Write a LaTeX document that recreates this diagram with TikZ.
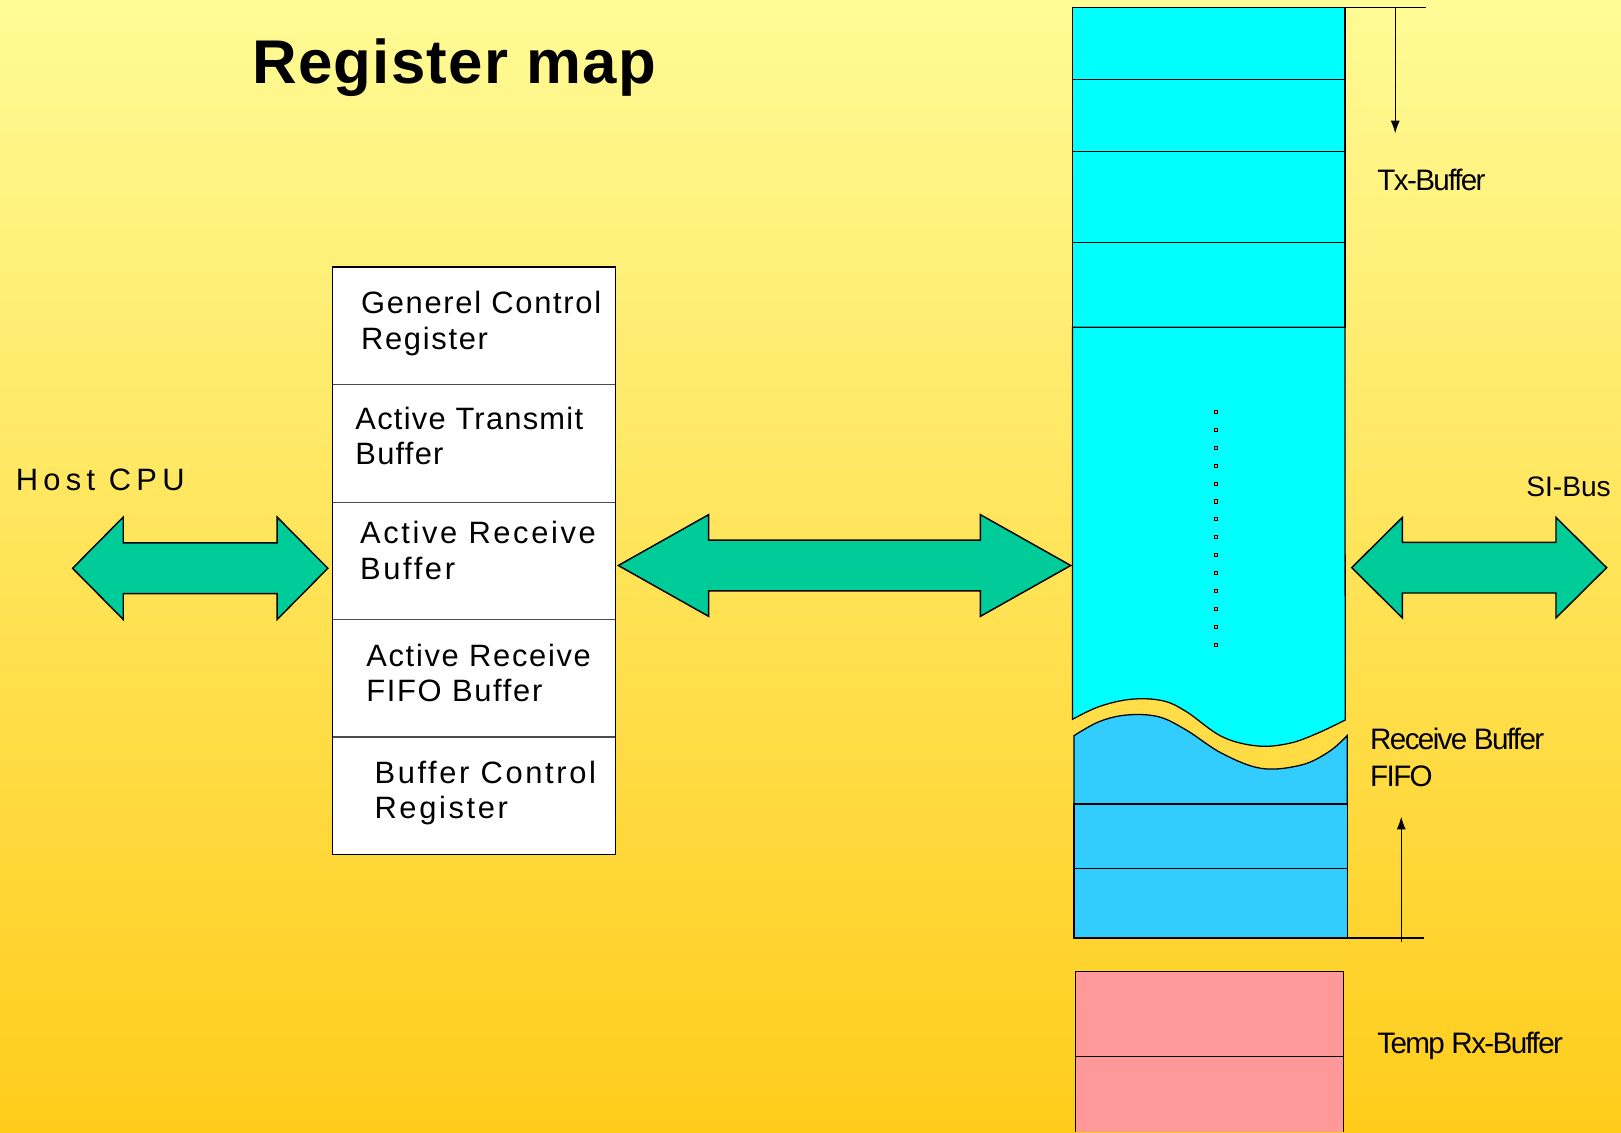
\documentclass[tikz,border=0pt]{standalone}
\usepackage{fontspec}
\setmainfont{Liberation Sans}
\newfontfamily\titlefont[LetterSpace=2]{Liberation Sans}
\newfontfamily\regfont[LetterSpace=5.5]{Liberation Sans}
\newfontfamily\tightregfont[LetterSpace=4]{Liberation Sans}
\newfontfamily\widefont[LetterSpace=8.5]{Liberation Sans}
\newfontfamily\hostfont[LetterSpace=17]{Liberation Sans}
\newfontfamily\narrowfont[LetterSpace=-5.5]{Liberation Sans}
\usetikzlibrary{arrows.meta}

\definecolor{bgtop}{RGB}{255,251,150}
\definecolor{bgbottom}{RGB}{255,204,26}
\definecolor{busgreen}{RGB}{0,204,153}
\definecolor{txcyan}{RGB}{0,255,255}
\definecolor{rxblue}{RGB}{51,204,255}
\definecolor{temppink}{RGB}{255,153,153}
\definecolor{dotfill}{RGB}{190,170,90}

\tikzset{
	bus/.style={draw=black, line width=0.8pt, fill=busgreen, line join=miter},
	regbox/.style={draw=black, line width=0.7pt, fill=white},
	regline/.style={draw=black!70, line width=0.7pt},
	txcell/.style={draw=black, line width=0.7pt, fill=txcyan},
	rxcell/.style={draw=black, line width=0.7pt, fill=rxblue},
	tempcell/.style={draw=black, line width=0.6pt, fill=temppink},
	ptr/.style={draw=black, line width=0.6pt, -{Latex[length=7pt, width=5pt]}},
	titletext/.style={inner sep=0pt, font=\titlefont\bfseries\fontsize{34}{40}\selectfont},
	hosttext/.style={inner sep=0pt, font=\hostfont\fontsize{17}{20}\selectfont},
	reglabel/.style={inner sep=0pt, align=left, font=\regfont\fontsize{17}{19.6}\selectfont},
	tightlabel/.style={inner sep=0pt, align=left, font=\tightregfont\fontsize{17}{19.6}\selectfont},
	widelabel/.style={inner sep=0pt, align=left, font=\widefont\fontsize{17}{19.6}\selectfont},
	buflabel/.style={inner sep=0pt, align=left, font=\narrowfont\fontsize{16.3}{20.1}\selectfont},
}

\def\fatarrow[#1](#2,#3,#4)(#5,#6,#7){\draw[#1] (#2,#4) -- ({#2+#5},{#4-#6}) -- ({#2+#5},{#4-#7}) -- ({#3-#5},{#4-#7}) -- ({#3-#5},{#4-#6}) -- (#3,#4) -- ({#3-#5},{#4+#6}) -- ({#3-#5},{#4+#7}) -- ({#2+#5},{#4+#7}) -- ({#2+#5},{#4+#6}) -- cycle;}

\begin{document}
\begin{tikzpicture}[x=0.02cm, y=-0.02cm]
			%%%%% START %%%%%
			
			\useasboundingbox (0,0) rectangle (1568,1095);
			\shade[top color=bgtop, bottom color=bgbottom] (0,0) rectangle (1568,1095);
			
			\node[titletext, anchor=base west] (title) at (244,80.6) {Register map};
			
			\node[hosttext, anchor=base west] (host) at (15,474) {Host CPU};
			\fatarrow[bus](70.2,317.1,549.7)(49,49.5,24.5);
			
			% register block (anchor on the second line)
			\draw[regbox] (321.8,258.2) rectangle (595.2,826.4);
			\foreach \y in {371.8,485.8,599.5,712.8}
				\draw[regline] (321.8,\y) -- (595.2,\y);
			\node[reglabel, anchor=base west] (gcr) at (349,337.8) {Generel Control\\Register};
			\node[tightlabel, anchor=base west] (atb) at (343.5,449.6) {Active Transmit\\Buffer};
			\node[widelabel, anchor=base west] (arb) at (348,560.6) {Active Receive\\Buffer};
			\node[reglabel, anchor=base west] (arf) at (354,679) {Active Receive\\FIFO Buffer};
			\node[widelabel, anchor=base west] (bcr) at (362,792) {Buffer Control\\Register};
			
			\fatarrow[bus](598.1,1035.7,547)(87.4,49.2,24.6);
			
			% Tx-Buffer
			\foreach \ya/\yb in {7.1/76.7,76.7/146.7,146.7/234.8,234.8/316.6}
				\draw[txcell] (1037.4,\ya) rectangle (1301,\yb);
			\draw[txcell] (1301,316.6) -- (1037.4,316.6) -- plot[smooth, tension=0.6] coordinates {(1037.4,695.8) (1063.1,683.5) (1093.9,676.4) (1124.6,677.8) (1147.6,688.4) (1182.1,712.6) (1216.6,721.6) (1247.2,719.0) (1274.1,709.4) (1301.2,696.5)} -- cycle;
			\foreach \i in {0,...,13}
				\draw[fill=dotfill, line width=0.4pt] ({1174.7},{397+17.3*\i}) rectangle ++(3,3);
			
			% Receive Buffer FIFO
			\draw[rxcell] (1038.9,777.7) -- plot[smooth, tension=0.6] coordinates {(1038.9,711.6) (1063.1,698.1) (1090,691.6) (1120.6,693.3) (1147.5,706.2) (1182.1,728.8) (1220.4,743.3) (1258.7,740.0) (1285.5,727.1) (1303.1,711.6)} -- (1303.1,777.7) -- cycle;
			\draw[rxcell] (1038.9,777.7) rectangle (1303.1,839.9);
			\draw[rxcell] (1038.9,839.9) rectangle (1303.1,907.3);
			
			% Temp Rx-Buffer
			\draw[tempcell] (1040,939.9) rectangle (1299.9,1021.8);
			\fill[temppink] (1040,1021.8) rectangle (1299.9,1095);
			\draw[tempcell] (1040,1095) -- (1040,1021.8) -- (1299.9,1021.8) -- (1299.9,1095);
			
			% pointers
			\coordinate (txtop) at (1349.6,7.1);
			\coordinate (txend) at (1349.6,129);
			\draw[line width=0.6pt] (1301,7.1) -- (1379,7.1);
			\draw[ptr] (txtop) -- (txend);
			\coordinate (rxbot) at (1355.4,911);
			\coordinate (rxend) at (1355.4,790);
			\draw[line width=0.6pt] (1301,907.3) -- (1377.2,907.3);
			\draw[ptr] (rxbot) -- (rxend);
			
			\node[buflabel, anchor=base west] (txbuf) at (1332,184.4) {Tx-Buffer};
			\node[buflabel, anchor=base west] (rxbuf) at (1325,760.3) {Receive Buffer\\FIFO};
			\node[buflabel, anchor=base west] (tmpbuf) at (1332,1018.9) {Temp Rx-Buffer};
			
			\node[buflabel, anchor=base west, font=\fontsize{15.5}{18}\selectfont] (sibus) at (1476,480.4) {SI-Bus};
			\fatarrow[bus](1307.5,1554.1,549.1)(49,48.6,24.5);
			
			%%%%% END %%%%%
\end{tikzpicture}
\end{document}
